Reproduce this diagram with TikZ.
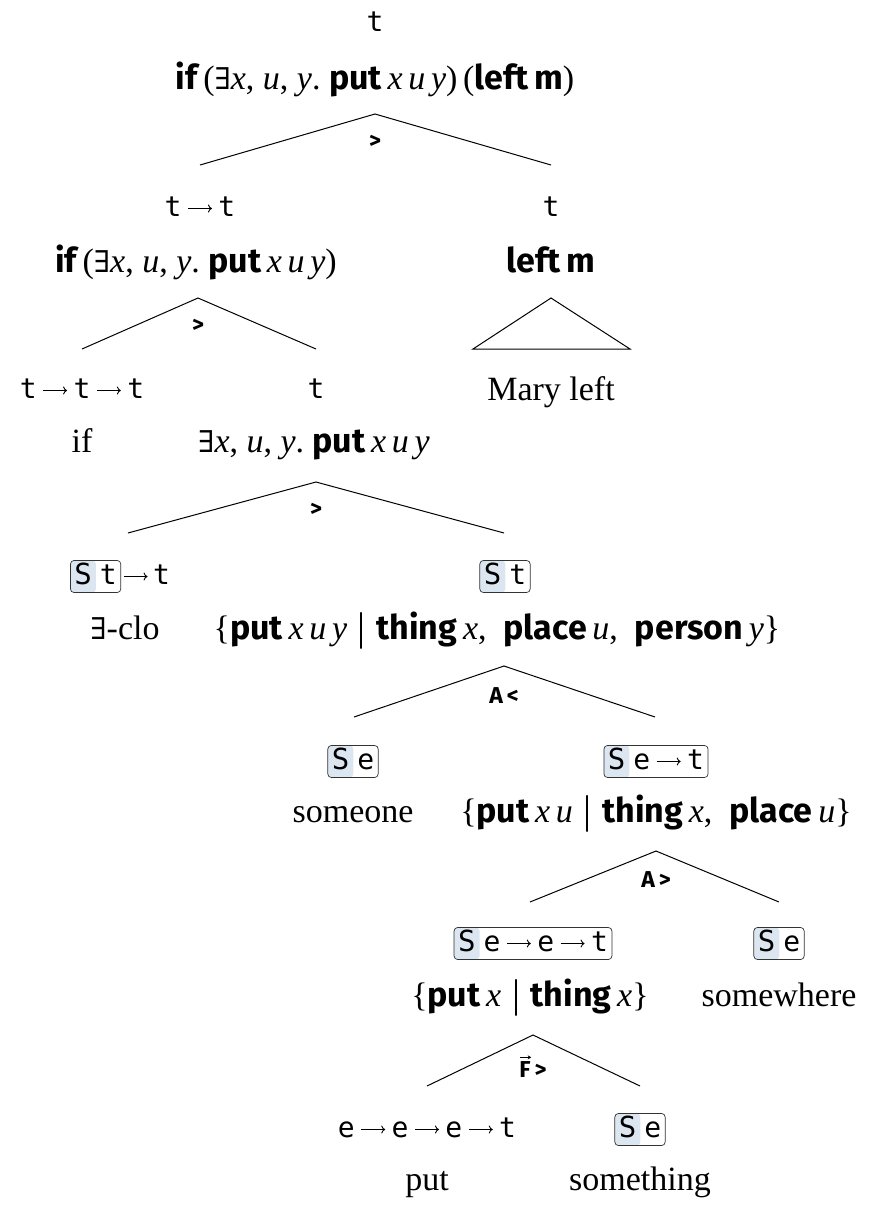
\documentclass[tikz,border=0pt]{standalone}
\usepackage{fontspec}
\usetikzlibrary{arrows.meta}
\setmainfont{Liberation Serif}
\newfontfamily\tyf{DejaVu Sans Mono}
\newfontfamily\semf{Fira Sans}
\newfontfamily\dvs{DejaVu Serif}
\definecolor{sblue}{HTML}{DCE6F1}
\definecolor{sframe}{HTML}{333333}
\newlength\Swd
\newcommand\bigS{{\fontsize{29}{30}\selectfont S}}
\newcommand\Sb[1]{\settowidth\Swd{\bigS}\tikz[baseline=(sb.base)]\node[sboxstyle,
  path picture={\fill[sblue] (path picture bounding box.south west) rectangle ([xshift=\Swd+8pt]path picture bounding box.north west);}] (sb) {\bigS\hspace{8pt}#1};}
\newcommand\sm[1]{{\semf\bfseries #1}}
\newcommand\ix[1]{\textit{#1}}
\newcommand\ex{{\dvs\fontsize{30}{34}\selectfont ∃}}
\newcommand\arw{\tikz[baseline=0pt,x=1pt,y=1pt]\draw[line width=0.9pt,-{To[length=4pt,width=8pt]}] (0,7.5) -- (24,7.5);}
\newcommand\ar{\hspace{6pt}\arw\hspace{6pt}}
\newcommand\vbar{\hspace{0.15em}{\fontsize{40}{40}\selectfont\raisebox{-1pt}{|}}\hspace{0.15em}}
\tikzset{
  ty/.style={font=\tyf\fontsize{28}{30}\selectfont, inner sep=0pt, anchor=base},
  tm/.style={font=\fontsize{34}{40}\selectfont, inner sep=0pt, anchor=base},
  lab/.style={font=\semf\bfseries\fontsize{23}{26}\selectfont, inner sep=0pt, anchor=center},
  sboxstyle/.style={draw=sframe, line width=0.7pt, rounded corners=3.5pt, inner xsep=4pt, inner ysep=3.5pt, text height=20pt, text depth=5pt},
  br/.style={line width=1pt, draw=black},
}
\begin{document}
\begin{tikzpicture}[x=1pt,y=-1pt]
\useasboundingbox (0,0) rectangle (884,1224);
% root
\node[ty] (r0) at (375,31) {t};
\node[tm] (r1) at (375,89) {\sm{if}\,(\ex\ix{x}, \ix{u}, \ix{y}.\ \sm{put}\,\ix{x}\,\ix{u}\,\ix{y})\,(\sm{left}\,\sm{m})};
\coordinate (a1) at (375,114);
\coordinate (l1) at (200,165);
\coordinate (r1e) at (551,165);
\draw[br] (l1) -- (a1) -- (r1e);
\node[lab] (g1) at (375,142) {>};
% level 2
\node[ty] (n2a) at (200,216) {t\ar t};
\node[tm] (n2b) at (196,272) {\sm{if}\,(\ex\ix{x}, \ix{u}, \ix{y}.\ \sm{put}\,\ix{x}\,\ix{u}\,\ix{y})};
\node[ty] (n3a) at (551,216) {t};
\node[tm] (n3b) at (551,272) {\sm{left}\,\sm{m}};
\coordinate (ta) at (551,298);
\coordinate (tl) at (473,349);
\coordinate (tr) at (630,349);
\draw[br] (ta) -- (tl) -- (tr) -- cycle;
\node[tm] (n3c) at (551,400) {Mary left};
% level 3
\coordinate (a2) at (198,298);
\coordinate (l2) at (82,349);
\coordinate (r2) at (316,349);
\draw[br] (l2) -- (a2) -- (r2);
\node[lab] (g2) at (198,326) {>};
\node[ty] (n4a) at (82,398) {t\ar t\ar t};
\node[tm] (n4b) at (82,452) {if};
\node[ty] (n5a) at (316,398) {t};
\node[tm] (n5b) at (314,452) {\ex\ix{x}, \ix{u}, \ix{y}.\ \sm{put}\,\ix{x}\,\ix{u}\,\ix{y}};
% level 4
\coordinate (a3) at (316,482);
\coordinate (l3) at (128,533);
\coordinate (r3) at (504,533);
\draw[br] (l3) -- (a3) -- (r3);
\node[lab] (g3) at (316,510) {>};
\node[ty] (n6a) at (120,584) {\Sb{t}\hspace{2pt}\arw\hspace{5pt}t};
\node[tm] (n6b) at (125,639) {\ex-clo};
\node[ty] (n7a) at (505,584) {\Sb{t}};
\node[tm] (n7b) at (497,639) {\{\sm{put}\,\ix{x}\,\ix{u}\,\ix{y}\,\vbar\,\sm{thing}\,\ix{x},\ \ \sm{place}\,\ix{u},\ \ \sm{person}\,\ix{y}\}};
% level 5
\coordinate (a4) at (504,666);
\coordinate (l4) at (354,717);
\coordinate (r4) at (655,717);
\draw[br] (l4) -- (a4) -- (r4);
\node[lab] (g4) at (504,696) {A\hspace{4pt}<};
\node[ty] (n8a) at (353,769) {\Sb{e}};
\node[tm] (n8b) at (353,822) {someone};
\node[ty] (n9a) at (656,769) {\Sb{e\ar t}};
\node[tm] (n9b) at (656,822) {\{\sm{put}\,\ix{x}\,\ix{u}\,\vbar\,\sm{thing}\,\ix{x},\ \ \sm{place}\,\ix{u}\}};
% level 6
\coordinate (a5) at (656,851);
\coordinate (l5) at (530,902);
\coordinate (r5) at (779,902);
\draw[br] (l5) -- (a5) -- (r5);
\node[lab] (g5) at (656,880) {A\hspace{4pt}>};
\node[ty] (n10a) at (533,951) {\Sb{e\ar e\ar t}};
\node[tm] (n10b) at (530,1006) {\{\sm{put}\,\ix{x}\,\vbar\,\sm{thing}\,\ix{x}\}};
\node[ty] (n11a) at (779,951) {\Sb{e}};
\node[tm] (n11b) at (779,1006) {somewhere};
% level 7
\coordinate (a6) at (533,1035);
\coordinate (l6) at (427,1086);
\coordinate (r6) at (640,1086);
\draw[br] (l6) -- (a6) -- (r6);
\node[lab] (g6) at (533,1070) {F\hspace{4pt}>};
\coordinate (v0) at ([xshift=1pt,yshift=4.5pt]g6.north west);
\coordinate (v1) at ([xshift=12pt,yshift=4.5pt]g6.north west);
\draw[line width=1pt, -{Stealth[length=3.5pt,width=4pt]}] (v0) -- (v1);
\node[ty] (n12a) at (427,1137) {e\ar e\ar e\ar t};
\node[tm] (n12b) at (427,1190) {put};
\node[ty] (n13a) at (640,1137) {\Sb{e}};
\node[tm] (n13b) at (640,1190) {something};
\end{tikzpicture}
\end{document}
